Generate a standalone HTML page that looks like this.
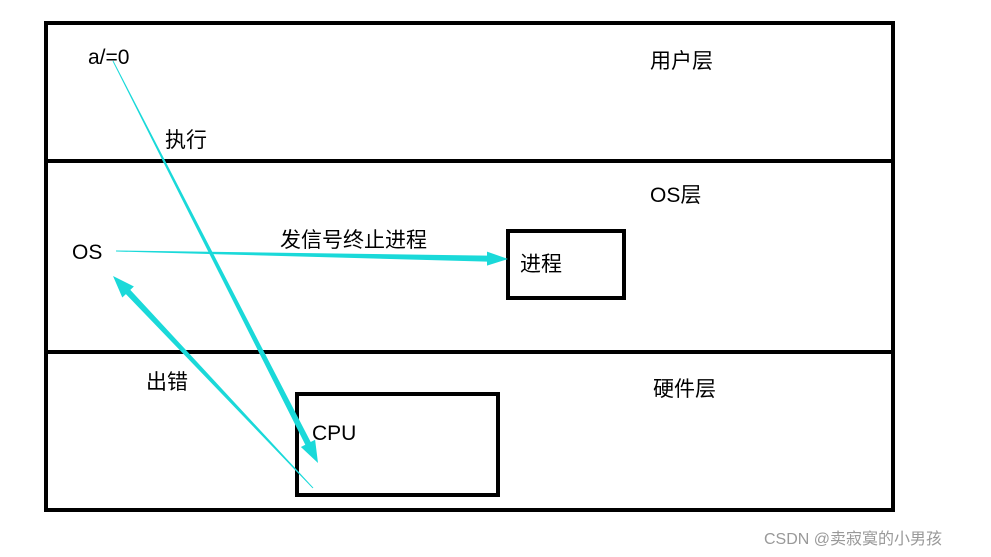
<html><head><style>body{margin:0;background:#fff;width:991px;height:557px;overflow:hidden}
text{font-family:"Liberation Sans","Noto Sans CJK SC",sans-serif;font-size:21px;fill:#000}</style></head><body>
<svg width="991" height="557">
<rect x="46" y="23" width="847" height="487" fill="none" stroke="#000" stroke-width="4"/>
<line x1="46" y1="161" x2="893" y2="161" stroke="#000" stroke-width="4"/>
<line x1="46" y1="352" x2="893" y2="352" stroke="#000" stroke-width="4"/>
<rect x="508" y="231" width="116" height="67" fill="none" stroke="#000" stroke-width="4"/>
<rect x="297" y="394" width="201" height="101" fill="none" stroke="#000" stroke-width="4"/>
<g fill="#1ad9d9">
<polygon points="113.4,60.8 310.7,442 315.1,439.8 318,463 300.9,447 305.3,444.8 112.6,61.2"/>
<polygon points="116,250.5 487,255.6 487,251.6 508,259 487,265.6 487,261.6 116,251.5"/>
<polygon points="313.4,487.7 130.3,289.9 133.9,286.5 113,276 122.3,297.5 125.9,294.1 312.6,488.3"/>
</g>
<text x="88" y="64">a/=0</text>
<text x="650" y="68">用户层</text>
<text x="165" y="147">执行</text>
<text x="650" y="202">OS层</text>
<text x="72" y="259">OS</text>
<text x="280" y="247">发信号终止进程</text>
<text x="520" y="271">进程</text>
<text x="146" y="389">出错</text>
<text x="653" y="396">硬件层</text>
<text x="312" y="440">CPU</text>
<text x="764" y="544" style="font-size:16px;fill:#999">CSDN @卖寂寞的小男孩</text>
</svg></body></html>
